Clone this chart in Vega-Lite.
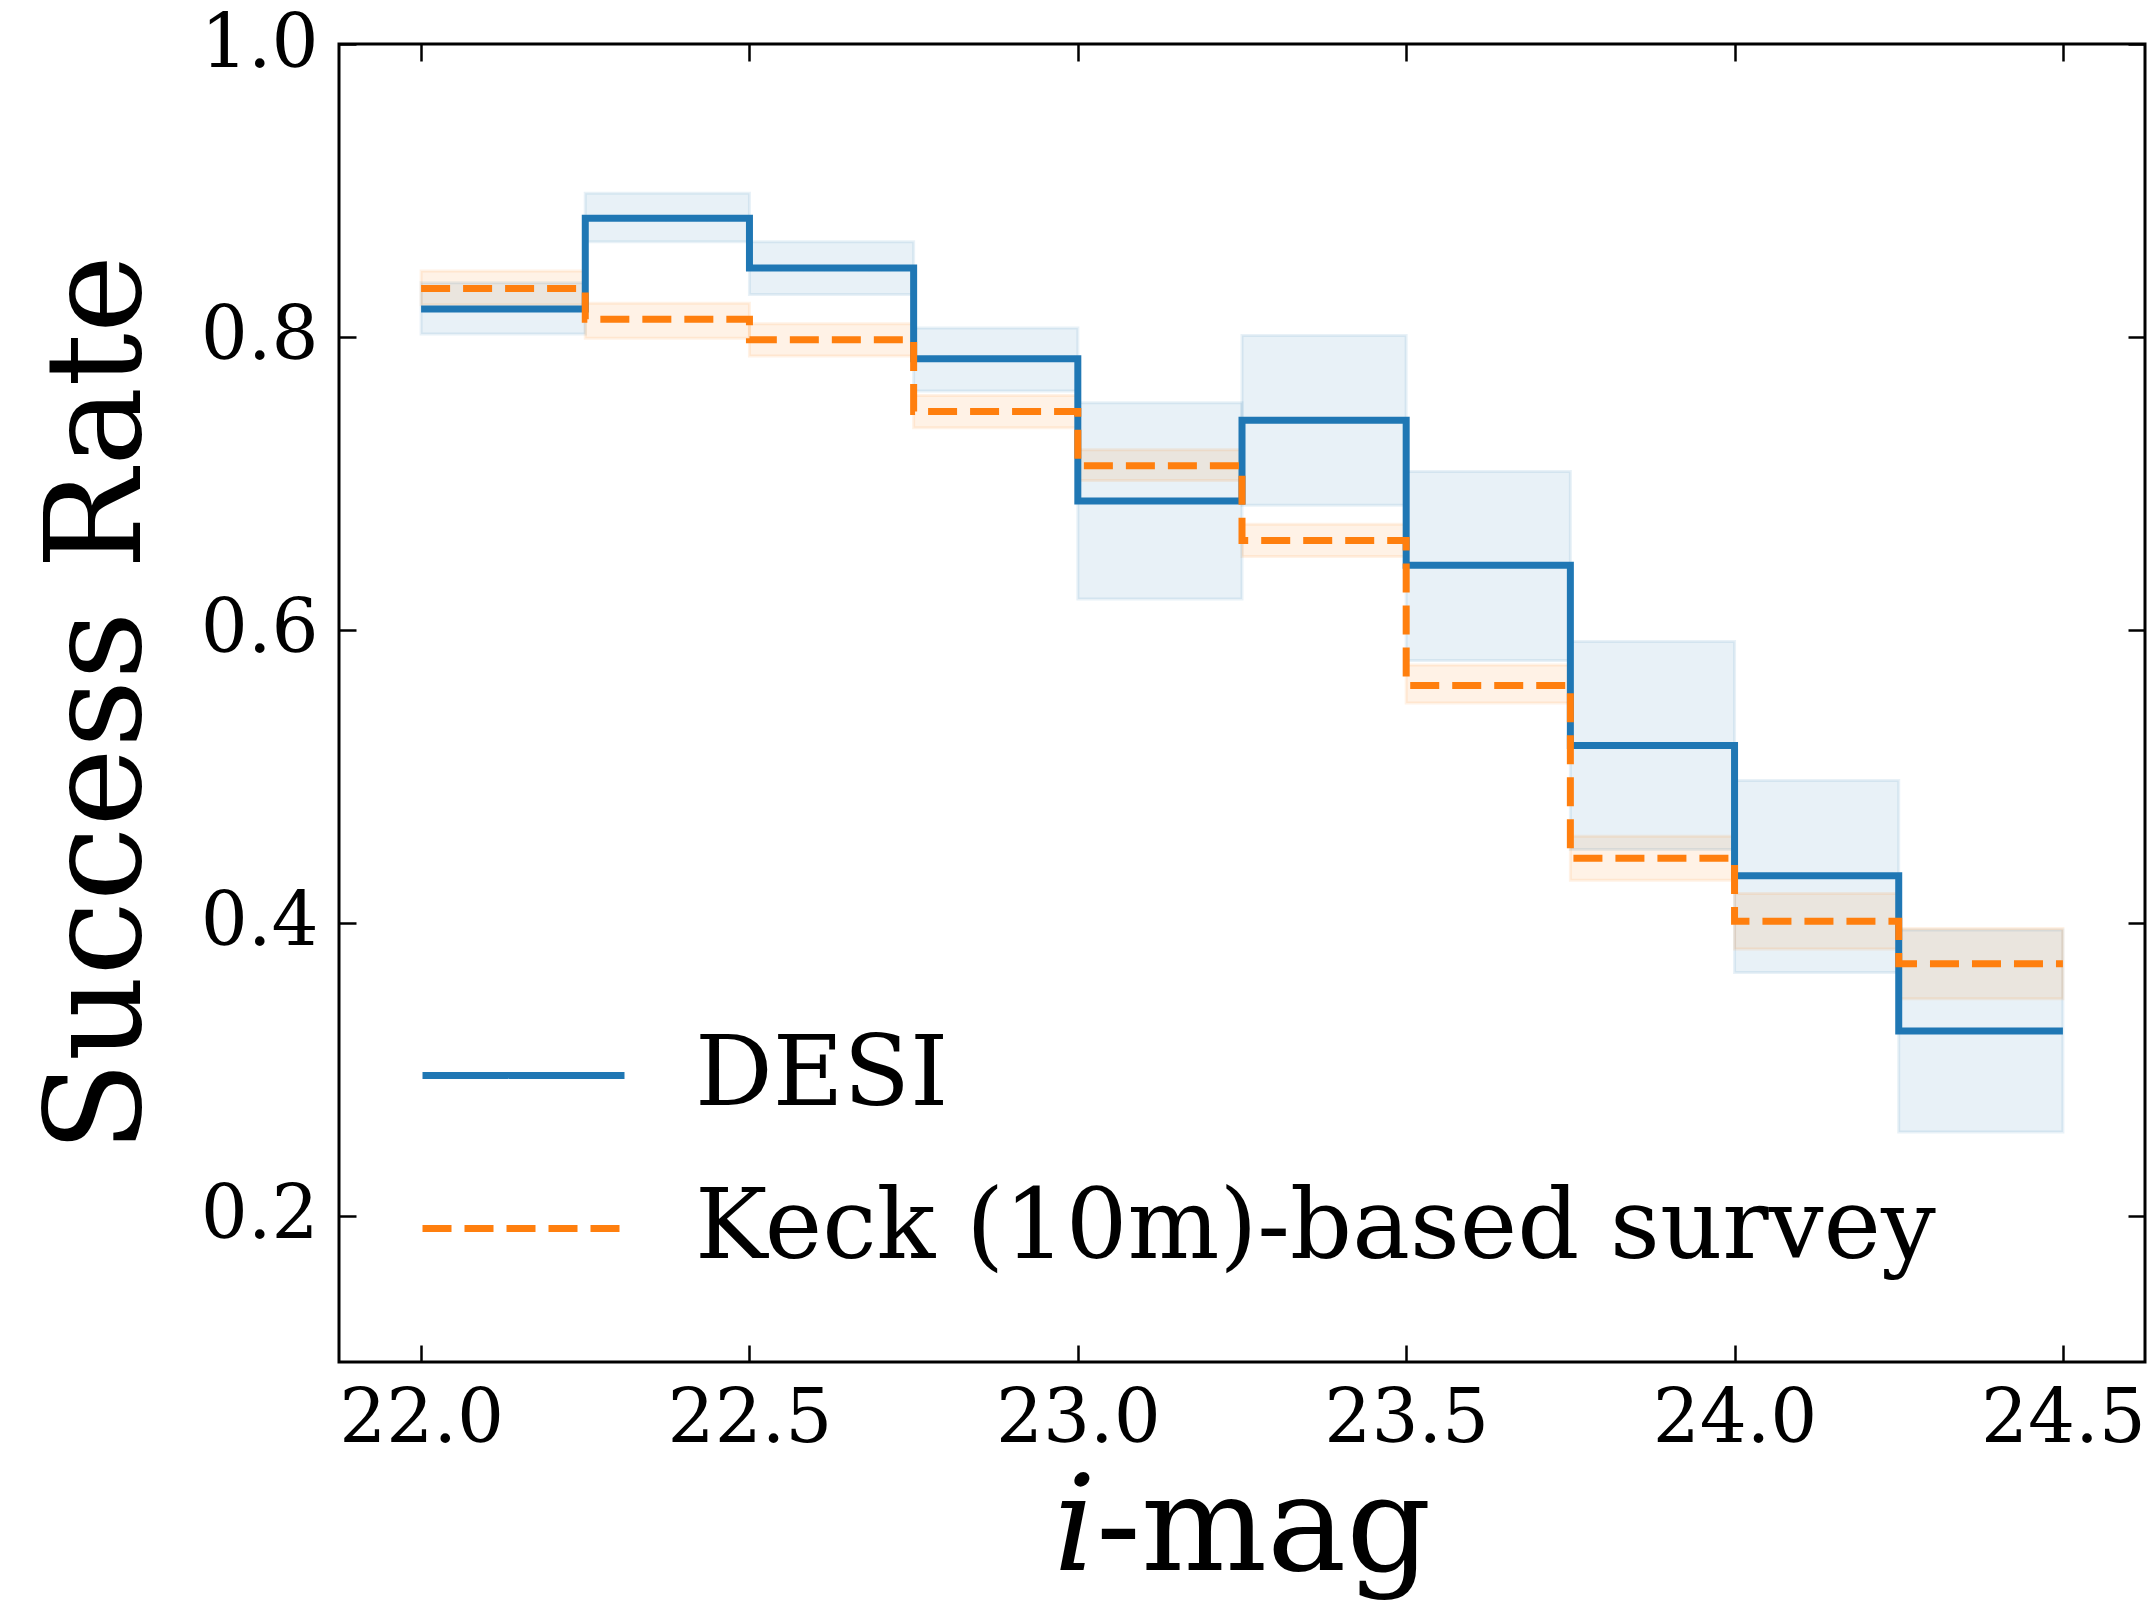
{
  "$schema": "https://vega.github.io/schema/vega-lite/v6.json",
  "width": 1806,
  "height": 1318,
  "autosize": {"type": "none"},
  "padding": {"left": 339, "top": 44, "right": 7, "bottom": 243},
  "background": "white",
  "config": {
    "view": {"stroke": "black", "strokeWidth": 3},
    "font": "DejaVu Serif",
    "axis": {
      "domain": false,
      "grid": false,
      "tickColor": "black",
      "tickWidth": 2.5,
      "tickSize": -17,
      "labelFont": "DejaVu Serif",
      "labelFontSize": 74,
      "labelColor": "black",
      "titleFont": "DejaVu Serif",
      "titleFontSize": 133,
      "titleFontWeight": "normal",
      "titleColor": "black"
    }
  },
  "datasets": {
    "bins": [
      {"survey": "DESI", "x0": 22.0, "x1": 22.25, "lo": 0.802, "hi": 0.837},
      {"survey": "DESI", "x0": 22.25, "x1": 22.5, "lo": 0.865, "hi": 0.898},
      {"survey": "DESI", "x0": 22.5, "x1": 22.75, "lo": 0.829, "hi": 0.865},
      {"survey": "DESI", "x0": 22.75, "x1": 23.0, "lo": 0.763, "hi": 0.806},
      {"survey": "DESI", "x0": 23.0, "x1": 23.25, "lo": 0.621, "hi": 0.755},
      {"survey": "DESI", "x0": 23.25, "x1": 23.5, "lo": 0.685, "hi": 0.801},
      {"survey": "DESI", "x0": 23.5, "x1": 23.75, "lo": 0.579, "hi": 0.708},
      {"survey": "DESI", "x0": 23.75, "x1": 24.0, "lo": 0.450, "hi": 0.592},
      {"survey": "DESI", "x0": 24.0, "x1": 24.25, "lo": 0.366, "hi": 0.497},
      {"survey": "DESI", "x0": 24.25, "x1": 24.5, "lo": 0.257, "hi": 0.395},
      {"survey": "Keck (10m)-based survey", "x0": 22.0, "x1": 22.25, "lo": 0.822, "hi": 0.845},
      {"survey": "Keck (10m)-based survey", "x0": 22.25, "x1": 22.5, "lo": 0.799, "hi": 0.823},
      {"survey": "Keck (10m)-based survey", "x0": 22.5, "x1": 22.75, "lo": 0.787, "hi": 0.809},
      {"survey": "Keck (10m)-based survey", "x0": 22.75, "x1": 23.0, "lo": 0.738, "hi": 0.760},
      {"survey": "Keck (10m)-based survey", "x0": 23.0, "x1": 23.25, "lo": 0.702, "hi": 0.723},
      {"survey": "Keck (10m)-based survey", "x0": 23.25, "x1": 23.5, "lo": 0.650, "hi": 0.672},
      {"survey": "Keck (10m)-based survey", "x0": 23.5, "x1": 23.75, "lo": 0.550, "hi": 0.576},
      {"survey": "Keck (10m)-based survey", "x0": 23.75, "x1": 24.0, "lo": 0.429, "hi": 0.459},
      {"survey": "Keck (10m)-based survey", "x0": 24.0, "x1": 24.25, "lo": 0.382, "hi": 0.420},
      {"survey": "Keck (10m)-based survey", "x0": 24.25, "x1": 24.5, "lo": 0.348, "hi": 0.396}
    ],
    "steps": [
      {"survey": "DESI", "mag": 22.0, "rate": 0.819},
      {"survey": "DESI", "mag": 22.25, "rate": 0.881},
      {"survey": "DESI", "mag": 22.5, "rate": 0.847},
      {"survey": "DESI", "mag": 22.75, "rate": 0.785},
      {"survey": "DESI", "mag": 23.0, "rate": 0.688},
      {"survey": "DESI", "mag": 23.25, "rate": 0.743},
      {"survey": "DESI", "mag": 23.5, "rate": 0.644},
      {"survey": "DESI", "mag": 23.75, "rate": 0.521},
      {"survey": "DESI", "mag": 24.0, "rate": 0.432},
      {"survey": "DESI", "mag": 24.25, "rate": 0.326},
      {"survey": "DESI", "mag": 24.5, "rate": 0.326},
      {"survey": "Keck (10m)-based survey", "mag": 22.0, "rate": 0.833},
      {"survey": "Keck (10m)-based survey", "mag": 22.25, "rate": 0.812},
      {"survey": "Keck (10m)-based survey", "mag": 22.5, "rate": 0.798},
      {"survey": "Keck (10m)-based survey", "mag": 22.75, "rate": 0.749},
      {"survey": "Keck (10m)-based survey", "mag": 23.0, "rate": 0.712},
      {"survey": "Keck (10m)-based survey", "mag": 23.25, "rate": 0.661},
      {"survey": "Keck (10m)-based survey", "mag": 23.5, "rate": 0.562},
      {"survey": "Keck (10m)-based survey", "mag": 23.75, "rate": 0.444},
      {"survey": "Keck (10m)-based survey", "mag": 24.0, "rate": 0.401},
      {"survey": "Keck (10m)-based survey", "mag": 24.25, "rate": 0.372},
      {"survey": "Keck (10m)-based survey", "mag": 24.5, "rate": 0.372}
    ]
  },
  "layer": [
    {
      "data": {"name": "bins"},
      "mark": {"type": "rect", "fillOpacity": 0.1, "strokeOpacity": 0.1, "strokeWidth": 3},
      "encoding": {
        "x": {
          "field": "x0", "type": "quantitative",
          "scale": {"domain": [21.875, 24.625], "nice": false, "zero": false},
          "axis": {"orient": "bottom", "values": [22.0, 22.5, 23.0, 23.5, 24.0, 24.5], "format": ".1f", "labelPadding": 38, "title": "𝑖-mag", "titlePadding": 8}
        },
        "x2": {"field": "x1"},
        "y": {
          "field": "lo", "type": "quantitative",
          "scale": {"domain": [0.1, 1.0], "nice": false, "zero": false},
          "axis": {"orient": "left", "values": [0.2, 0.4, 0.6, 0.8, 1.0], "format": ".1f", "labelPadding": 38, "title": "Success Rate", "titlePadding": 33}
        },
        "y2": {"field": "hi"},
        "fill": {
          "field": "survey", "type": "nominal",
          "scale": {"domain": ["DESI", "Keck (10m)-based survey"], "range": ["#1f77b4", "#ff7f0e"]},
          "legend": null
        },
        "stroke": {
          "field": "survey", "type": "nominal",
          "scale": {"domain": ["DESI", "Keck (10m)-based survey"], "range": ["#1f77b4", "#ff7f0e"]},
          "legend": null
        }
      }
    },
    {
      "data": {"name": "steps"},
      "mark": {"type": "line", "interpolate": "step-after", "strokeWidth": 7},
      "encoding": {
        "x": {
          "field": "mag", "type": "quantitative",
          "axis": {"orient": "top", "values": [22.0, 22.5, 23.0, 23.5, 24.0, 24.5], "labels": false, "title": null}
        },
        "y": {
          "field": "rate", "type": "quantitative",
          "axis": {"orient": "right", "values": [0.2, 0.4, 0.6, 0.8, 1.0], "labels": false, "title": null}
        },
        "stroke": {
          "field": "survey", "type": "nominal",
          "scale": {"domain": ["DESI", "Keck (10m)-based survey"], "range": ["#1f77b4", "#ff7f0e"]},
          "legend": {
            "orient": "none", "legendX": 80, "legendY": 927, "title": null,
            "labelFont": "DejaVu Serif", "labelFontSize": 97, "labelColor": "black", "labelLimit": 3000,
            "symbolType": "stroke", "symbolSize": 40804, "symbolStrokeWidth": 7,
            "labelOffset": 67, "rowPadding": -16, "padding": 0,
            "encode": {"symbols": {"update": {"strokeDash": {"scale": "strokeDash", "field": "value"}}}}
          }
        },
        "strokeDash": {
          "field": "survey", "type": "nominal",
          "scale": {"domain": ["DESI", "Keck (10m)-based survey"], "range": [[1, 0], [29, 13]]},
          "legend": null
        }
      }
    }
  ],
  "resolve": {
    "axis": {"x": "independent", "y": "independent"},
    "legend": {"fill": "independent", "stroke": "independent"}
  }
}
